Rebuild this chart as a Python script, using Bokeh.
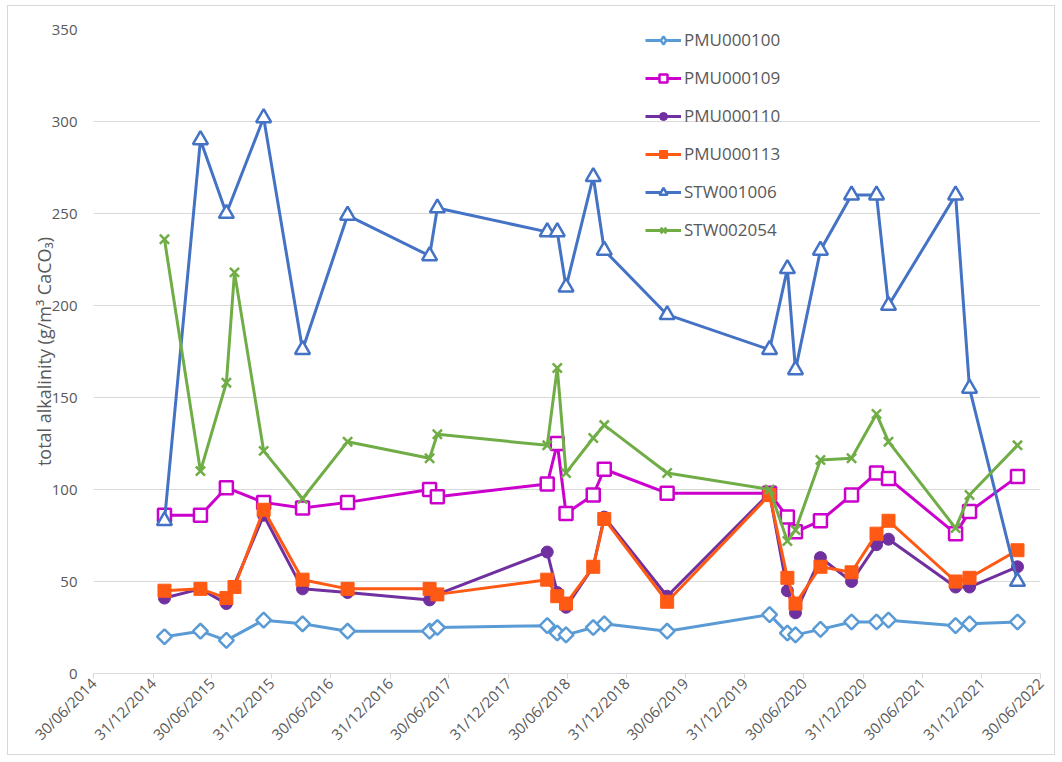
from math import pi

import pandas as pd
from bokeh.embed import file_html
from bokeh.models import (ColumnDataSource, DatetimeTickFormatter, FixedTicker,
                          Legend, LegendItem, Range1d)
from bokeh.plotting import figure
from bokeh.resources import INLINE

# Sampling dates shared by all monitoring sites (None = not sampled)
sample_dates = [
    "2015-02-04", "2015-05-26", "2015-08-14", "2015-09-08", "2015-12-07",
    "2016-04-05", "2016-08-22", "2017-05-02", "2017-05-26", "2018-04-30",
    "2018-05-31", "2018-06-27", "2018-09-19", "2018-10-23", "2019-05-05",
    "2020-03-16", "2020-05-10", "2020-06-04", "2020-08-20", "2020-11-24",
    "2021-02-09", "2021-03-18", "2021-10-11", "2021-11-23", "2022-04-20",
]

# Total alkalinity, g/m3 as CaCO3
pmu000100 = [20, 23, 18, None, 29, 27, 23, 23, 25, 26, 22, 21, 25, 27, 23,
             32, 22, 21, 24, 28, 28, 29, 26, 27, 28]
pmu000109 = [86, 86, 101, None, 93, 90, 93, 100, 96, 103, 125, 87, 97, 111, 98,
             98, 85, 77, 83, 97, 109, 106, 76, 88, 107]
pmu000110 = [41, 46, 38, None, 86, 46, 44, 40, 43, 66, 44, 36, 58, 85, 42,
             98, 45, 33, 63, 50, 70, 73, 47, 47, 58]
pmu000113 = [45, 46, 41, 47, 89, 51, 46, 46, 43, 51, 42, 38, 58, 84, 39,
             97, 52, 38, 58, 55, 76, 83, 50, 52, 67]
stw001006 = [83, 290, 250, None, 302, 176, 249, 227, 253, 240, 240, 210, 270, 230, 195,
             176, 220, 165, 230, 260, 260, 200, 260, 155, 50]
stw002054 = [236, 110, 158, 218, 121, 95, 126, 117, 130, 124, 166, 109, 128, 135, 109,
             100, 72, 78, 116, 117, 141, 126, 79, 97, 124]

tick_dates = [
    "2014-06-30", "2014-12-31", "2015-06-30", "2015-12-31", "2016-06-30",
    "2016-12-31", "2017-06-30", "2017-12-31", "2018-06-30", "2018-12-31",
    "2019-06-30", "2019-12-31", "2020-06-30", "2020-12-31", "2021-06-30",
    "2021-12-31", "2022-06-30",
]

TEXT = "#595959"
GRID = "#d9d9d9"
FONT = "Open Sans"

p = figure(
    width=1048, height=750,
    x_axis_type="datetime",
    x_range=Range1d(pd.Timestamp("2014-06-30"), pd.Timestamp("2022-06-30")),
    y_range=Range1d(0, 350),
    output_backend="svg", toolbar_location=None,
    min_border_left=85, min_border_right=16, min_border_top=23, min_border_bottom=83,
    background_fill_color="white", border_fill_color="white",
)
p.margin = (5, 7, 5, 7)
p.styles = {"border": "1px solid #d9d9d9"}
p.outline_line_color = None

# axes
p.yaxis.ticker = [0, 50, 100, 150, 200, 250, 300, 350]
p.yaxis.axis_line_color = None
p.yaxis.major_tick_line_color = None
p.yaxis.minor_tick_line_color = None
p.yaxis.major_label_text_font = FONT
p.yaxis.major_label_text_font_size = "15px"
p.yaxis.major_label_text_color = TEXT
p.yaxis.major_label_standoff = 10
p.yaxis.axis_label = "total alkalinity (g/m\u00b3 CaCO\u2083)"
p.yaxis.axis_label_text_font = FONT
p.yaxis.axis_label_text_font_size = "18px"
p.yaxis.axis_label_text_font_style = "normal"
p.yaxis.axis_label_text_color = TEXT
p.yaxis.axis_label_standoff = -7

p.xaxis.ticker = FixedTicker(ticks=[pd.Timestamp(d).value / 1e6 for d in tick_dates])
fmt = "%d/%m/%Y"
p.xaxis.formatter = DatetimeTickFormatter(
    microseconds=fmt, milliseconds=fmt, seconds=fmt, minsec=fmt, minutes=fmt,
    hourmin=fmt, hours=fmt, days=fmt, months=fmt, years=fmt,
)
p.xaxis.major_label_orientation = pi / 4
p.xaxis.major_label_text_font = FONT
p.xaxis.major_label_text_font_size = "15px"
p.xaxis.major_label_text_color = TEXT
p.xaxis.axis_line_color = GRID
p.xaxis.major_tick_line_color = GRID
p.xaxis.major_tick_in = 0
p.xaxis.major_tick_out = 5
p.xaxis.minor_tick_line_color = None
p.xaxis.major_label_standoff = 2

p.xgrid.grid_line_color = None
p.ygrid.grid_line_color = GRID
p.ygrid.grid_line_width = 1

# name, values, colour, marker used on the chart, marker used in the legend
series = [
    ("PMU000100", pmu000100, "#5B9BD5",
     dict(marker="square", size=10.5, angle=pi / 4, fill_color="white", line_width=2.5),
     dict(marker="diamond", fill_color="white", line_width=2.5)),
    ("PMU000109", pmu000109, "#CC00CC",
     dict(marker="square", size=13, fill_color="white", line_width=2.5), None),
    ("PMU000110", pmu000110, "#7030A0",
     dict(marker="circle", size=12, line_width=1), None),
    ("PMU000113", pmu000113, "#FF5A14",
     dict(marker="square", size=13, line_width=1), None),
    ("STW001006", stw001006, "#4472C4",
     dict(marker="triangle", size=15, fill_color="white", line_width=2.5), None),
    ("STW002054", stw002054, "#70AD47",
     dict(marker="x", size=13, line_width=2.5), None),
]

items = []
for name, vals, color, mk, legend_mk in series:
    pairs = [(pd.Timestamp(d), v) for d, v in zip(sample_dates, vals) if v is not None]
    src = ColumnDataSource(dict(x=[a for a, _ in pairs], y=[b for _, b in pairs]))
    ln = p.line("x", "y", source=src, line_color=color, line_width=3)
    legend_sc = None
    if legend_mk is not None:
        # zero-size marker: invisible on the chart, drawn at legend size in the legend
        legend_sc = p.scatter("x", "y", source=src, size=0, line_color=color, **legend_mk)
    kw = dict(mk)
    kw.setdefault("fill_color", color)
    sc = p.scatter("x", "y", source=src, line_color=color, **kw)
    items.append(LegendItem(label=name, renderers=[ln, legend_sc or sc]))

legend = Legend(
    items=items, location=(552, 432),
    label_text_font=FONT, label_text_font_size="17px", label_text_color=TEXT,
    glyph_width=36, glyph_height=20, label_height=20, label_standoff=3,
    spacing=15, padding=0, margin=0,
    background_fill_alpha=0, border_line_color=None,
)
p.add_layout(legend)

open("out.html", "w").write(file_html(p, INLINE))
